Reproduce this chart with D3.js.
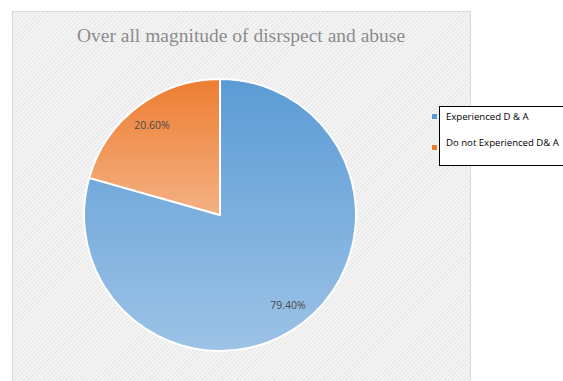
<!DOCTYPE html>
<html>
<head>
<meta charset="utf-8">
<script src="https://cdn.jsdelivr.net/npm/d3@7"></script>
<style>
    body { margin: 0; background: #fff; }
    svg { display: block; }
</style>
</head>
<body>
<div id="chart"></div>
<script>
const categories = ['Experienced D & A', 'Do not Experienced D& A'];
const values = [79.4, 20.6];
const valueLabels = ['79.40%', '20.60%'];
const topColors = ['#5B9BD5', '#ED7D31'];
const bottomColors = ['#9DC3E6', '#F4B183'];
const title = 'Over all magnitude of disrspect and abuse';

const width = 563, height = 381;
const panel = {x: 12, y: 11, w: 458, h: 372};
const center = {x: 220, y: 215};
const radius = 136;

let svg = d3.select('#chart')
    .append('svg')
    .attr('width', width)
    .attr('height', height);

let defs = svg.append('defs');

// diagonal hatch for the chart area
let hatch = defs.append('pattern')
    .attr('id', 'hatch')
    .attr('patternUnits', 'userSpaceOnUse')
    .attr('width', 3)
    .attr('height', 3)
    .attr('patternTransform', 'rotate(45)');
hatch.append('rect')
    .attr('width', 3).attr('height', 3)
    .attr('fill', '#f5f5f5');
hatch.append('line')
    .attr('x1', 0).attr('y1', 0)
    .attr('x2', 0).attr('y2', 3)
    .attr('stroke', '#dadada')
    .attr('stroke-width', 1.2);

categories.forEach(function (c, i) {
    let g = defs.append('linearGradient')
        .attr('id', 'grad' + i)
        .attr('x1', 0).attr('y1', 0)
        .attr('x2', 0).attr('y2', 1);
    g.append('stop').attr('offset', '0%').attr('stop-color', topColors[i]);
    g.append('stop').attr('offset', '100%').attr('stop-color', bottomColors[i]);
});

svg.append('rect')
    .attr('x', panel.x + 0.5)
    .attr('y', panel.y + 0.5)
    .attr('width', panel.w)
    .attr('height', panel.h)
    .attr('fill', 'url(#hatch)')
    .attr('stroke', '#d9d9d9')
    .attr('stroke-width', 1);

svg.append('text')
    .attr('x', 241)
    .attr('y', 42)
    .attr('text-anchor', 'middle')
    .attr('font-family', '"Liberation Serif", "Times New Roman", serif')
    .attr('font-size', 19.5)
    .attr('fill', '#8c8c8c')
    .text(title);

// pie
let pie = d3.pie().sort(null).value(d => d);
let arcs = pie(values);
let arc = d3.arc().innerRadius(0).outerRadius(radius);
let labelArc = d3.arc().innerRadius(radius * 0.83).outerRadius(radius * 0.83);

let pieG = svg.append('g')
    .attr('transform', 'translate(' + center.x + ',' + center.y + ')');

pieG.selectAll('path')
    .data(arcs)
    .enter()
    .append('path')
    .attr('d', arc)
    .attr('fill', (d, i) => 'url(#grad' + i + ')')
    .attr('stroke', '#fff')
    .attr('stroke-width', 2)
    .attr('stroke-linejoin', 'round');

pieG.selectAll('text')
    .data(arcs)
    .enter()
    .append('text')
    .attr('transform', d => 'translate(' + labelArc.centroid(d) + ')')
    .attr('dy', '0.35em')
    .attr('text-anchor', 'middle')
    .attr('font-family', '"Open Sans", "Liberation Sans", sans-serif')
    .attr('font-size', 10.5)
    .attr('fill', '#4a4a4a')
    .text((d, i) => valueLabels[i]);

// legend
let legend = svg.append('g');
legend.append('rect')
    .attr('x', 439.5)
    .attr('y', 106.5)
    .attr('width', 140)
    .attr('height', 59)
    .attr('fill', '#fff')
    .attr('stroke', '#000')
    .attr('stroke-width', 1);

let legendY = d3.scalePoint()
    .domain(categories)
    .range([117, 143]);

categories.forEach(function (c, i) {
    legend.append('rect')
        .attr('x', 432)
        .attr('y', legendY(c) - 3 + (i ? 5 : 0))
        .attr('width', 5)
        .attr('height', 5)
        .attr('fill', topColors[i]);
    legend.append('text')
        .attr('x', 446)
        .attr('y', legendY(c))
        .attr('dy', '0.35em')
        .attr('font-family', '"Open Sans", "Liberation Sans", sans-serif')
        .attr('font-size', 9.6)
        .attr('fill', '#000')
        .text(c);
});
</script>
</body>
</html>
